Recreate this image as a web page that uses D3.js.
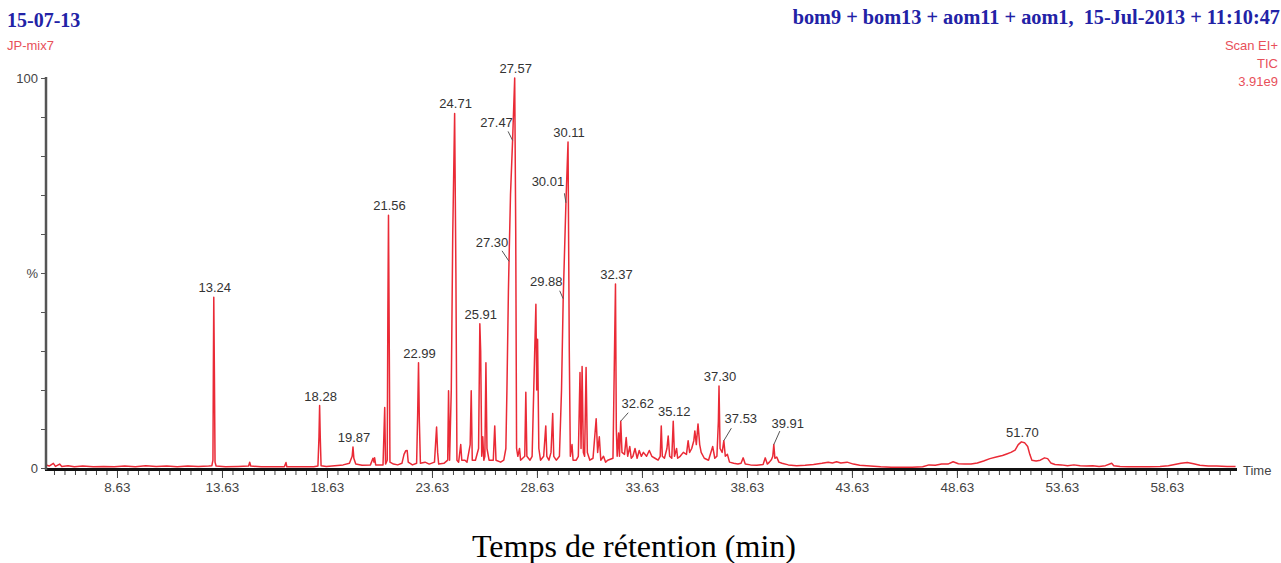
<!DOCTYPE html>
<html><head><meta charset="utf-8">
<script src="https://cdn.jsdelivr.net/npm/d3@7"></script>
<style>html,body{margin:0;padding:0;background:#fff;} svg{display:block;}</style>
</head><body>
<svg id="chart" width="1281" height="563"></svg>
<script>
// ---------- data ----------
const rtRange = [5.25, 61.92];
const majorTicks = [8.63, 13.63, 18.63, 23.63, 28.63, 33.63, 38.63, 43.63, 48.63, 53.63, 58.63];
const yTicks = [0, 10, 20, 30, 40, 50, 60, 70, 80, 90, 100];
const yTickText = {0: "0", 50: "%", 100: "100"};

// TIC trace: [retention time (min), relative intensity (%)]
const ticTrace = [
 [5.25,0.8],[5.4,0.5],[5.6,1.2],[5.7,0.4],[5.9,1.0],[6.0,0.4],[6.3,0.6],[6.6,0.3],[7.0,0.5],[7.5,0.3],
 [8.0,0.4],[8.5,0.3],[9.0,0.5],[9.5,0.3],[10.0,0.6],[10.5,0.4],[11.0,0.5],[11.5,0.3],[12.0,0.5],[12.5,0.4],
 [13.0,0.5],[13.15,0.6],[13.2,2],[13.22,25],[13.24,43.8],[13.27,24],[13.3,1.5],[13.35,0.5],
 [13.8,0.3],[14.4,0.4],[14.9,0.5],[14.95,1.5],[15.0,0.5],[15.5,0.3],[16.0,0.3],[16.6,0.3],[16.68,1.4],[16.72,0.3],
 [17.3,0.3],[18.0,0.3],[18.2,0.5],[18.25,8],[18.28,16],[18.31,8],[18.35,0.6],[18.6,0.4],[19.0,0.6],[19.4,0.8],
 [19.7,1.2],[19.83,3],[19.87,5.4],[19.91,2.5],[20.0,1.0],[20.3,0.7],[20.7,0.8],[20.82,2.5],[20.87,1.5],[20.9,2.6],[20.95,0.8],
 [21.3,0.8],[21.38,15.5],[21.42,1.0],[21.5,2],[21.53,40],[21.56,64.8],[21.59,38],[21.63,1.5],[21.8,1.0],[22.0,0.8],
 [22.2,1.2],[22.3,3.5],[22.38,4.4],[22.45,4.5],[22.5,1.5],[22.7,0.8],[22.9,1.2],[22.95,14],[22.99,27],[23.03,12],[23.08,1.2],
 [23.3,1.5],[23.5,1.0],[23.75,1.5],[23.85,10.5],[23.9,4],[23.95,1.0],[24.2,1.2],
 [24.38,2],[24.42,19.8],[24.47,2],[24.55,20],[24.62,60],[24.71,90.9],[24.77,50],[24.82,2],[24.9,1.5],[25.0,6],[25.05,2],
 [25.2,2],[25.3,1.5],[25.45,6],[25.5,19.8],[25.55,2],[25.7,2],[25.85,5],[25.91,37],[25.95,30],[26.0,3],[26.05,8],[26.1,2],
 [26.15,3],[26.2,27],[26.25,5],[26.35,2],[26.55,2],[26.62,10.8],[26.68,2],[26.9,1.5],[27.05,2],[27.15,5],[27.2,20],
 [27.27,45],[27.3,53],[27.37,70],[27.47,84],[27.57,100],[27.62,60],[27.66,5],[27.72,3],[27.8,5],[27.85,2],[27.95,2.5],
 [28.05,3],[28.1,19.4],[28.15,3],[28.3,2],[28.4,3],[28.5,25],[28.58,42],[28.62,20],[28.66,33],[28.72,5],[28.8,2],
 [28.95,3],[29.05,10.8],[29.1,3],[29.2,2],[29.3,4],[29.38,14],[29.43,3],[29.55,2],[29.7,3],[29.8,20],[29.88,43.4],
 [30.01,68],[30.11,83.6],[30.17,30],[30.22,3],[30.3,6],[30.35,2],[30.5,2],[30.6,3],[30.68,24.5],[30.73,5],[30.78,26],
 [30.84,4],[30.9,3],[30.97,25.8],[31.03,4],[31.15,2],[31.3,2.5],[31.45,12.6],[31.52,4],[31.6,8],[31.67,2],[31.8,3],
 [31.9,1.5],[32.0,2],[32.25,2.5],[32.31,25],[32.37,47.2],[32.41,10],[32.45,3],[32.52,9],[32.56,3],[32.62,12],[32.68,4],
 [32.8,3.5],[32.88,7.8],[32.95,3],[33.05,5.5],[33.12,2.5],[33.2,3],[33.3,5],[33.4,2.5],[33.5,4.5],[33.6,3],[33.7,4],
 [33.85,3],[33.98,4.5],[34.1,3],[34.25,2.5],[34.4,2],[34.5,3],[34.55,10.8],[34.6,3],[34.7,2.5],[34.82,5],[34.88,8.2],
 [34.95,3],[35.05,2.5],[35.12,12],[35.18,3],[35.28,5],[35.33,2.5],[35.45,3],[35.6,4],[35.75,3.5],[35.83,7],[35.9,4],
 [36.0,5],[36.1,7],[36.15,9.5],[36.22,6],[36.3,11.3],[36.38,6],[36.45,4],[36.6,2.5],[36.8,2],[37.0,5.5],[37.1,2.5],
 [37.2,3],[37.27,12],[37.3,21],[37.35,5],[37.45,4],[37.53,7],[37.6,3],[37.7,3.5],[37.8,1.5],[38.0,1.2],[38.2,1.0],
 [38.35,1.2],[38.45,2.6],[38.55,1],[38.8,0.8],[39.1,0.7],[39.4,0.9],[39.5,2.6],[39.6,1],[39.7,1.5],[39.8,2.2],[39.86,3],
 [39.91,6],[39.96,2.5],[40.05,2.8],[40.15,1.5],[40.3,1.2],[40.6,0.8],[41.0,0.6],[41.4,0.7],[41.8,0.9],[42.2,1.2],
 [42.5,1.5],[42.7,1.3],[42.9,1.6],[43.1,1.3],[43.4,1.5],[43.7,1.0],[44.0,0.7],[44.5,0.5],[45.0,0.3],[45.5,0.2],
 [46.0,0.2],[46.5,0.2],[47.0,0.3],[47.3,0.8],[47.6,0.7],[47.9,1.0],[48.2,1.0],[48.45,1.6],[48.7,1.1],[49.0,1.0],
 [49.3,1.0],[49.6,1.3],[49.9,1.8],[50.2,2.4],[50.5,2.8],[50.8,3.2],[51.0,3.6],[51.2,4.0],[51.4,4.6],[51.55,6.0],
 [51.7,6.7],[51.85,6.5],[52.0,5.5],[52.1,3.5],[52.2,2.0],[52.4,1.8],[52.6,2.0],[52.8,2.6],[52.95,2.4],[53.1,1.3],
 [53.3,0.9],[53.6,0.8],[53.9,0.6],[54.2,0.8],[54.5,0.6],[54.8,0.5],[55.1,0.6],[55.4,0.4],[55.7,0.6],[56.0,1.2],
 [56.1,0.6],[56.4,0.4],[56.8,0.3],[57.3,0.3],[57.8,0.3],[58.3,0.4],[58.7,0.6],[59.0,0.9],[59.3,1.2],[59.6,1.4],
 [59.9,1.1],[60.2,0.7],[60.6,0.5],[61.0,0.5],[61.5,0.4],[61.9,0.4]
];

// labelled peaks
const peakLabelText = ["13.24","18.28","19.87","21.56","22.99","24.71","25.91","27.30","27.47","27.57",
  "29.88","30.01","30.11","32.37","32.62","35.12","37.30","37.53","39.91","51.70"];
const peakLabelTime = [13.24,18.28,19.87,21.56,22.99,24.71,25.91,27.30,27.47,27.57,
  29.88,30.01,30.11,32.37,32.62,35.12,37.30,37.53,39.91,51.70];
const peakLabelHeight = [43.8,16,5.4,64.8,27,90.9,37,53,84,100,
  43.4,68,83.6,47.2,12,12,21,7,6,6.7];

// header texts
const headerLeft = "15-07-13";
const sampleName = "JP-mix7";
const headerRight = "bom9 + bom13 + aom11 + aom1,  15-Jul-2013 + 11:10:47";
const scanInfo = ["Scan EI+", "TIC", "3.91e9"];
const xAxisEnd = "Time";
const xTitle = "Temps de rétention (min)";

// ---------- drawing ----------
const svg = d3.select("#chart");
const x = d3.scaleLinear().domain(rtRange).range([46, 1236]);
const y = d3.scaleLinear().domain([0, 100]).range([468, 78]);
const sans = "'Liberation Sans', Arial, sans-serif";
const serif = "'Liberation Serif', 'Times New Roman', serif";

// trace
svg.append("path")
  .datum(ticTrace)
  .attr("fill", "none")
  .attr("stroke", "#ea2a36")
  .attr("stroke-width", 1.5)
  .attr("stroke-linejoin", "round")
  .attr("d", d3.line().x(d => x(d[0])).y(d => y(d[1])));

// minor x ticks
const minorTicks = d3.range(0, 200).map(k => 5.63 + 0.5 * k).filter(t => t <= rtRange[1]);
const gMinor = svg.append("g").attr("transform", "translate(0,470)")
  .call(d3.axisBottom(x).tickValues(minorTicks).tickSize(5).tickFormat(""));
gMinor.select(".domain").remove();
gMinor.selectAll(".tick line").attr("stroke", "#444");

const gMajor = svg.append("g").attr("transform", "translate(0,470)")
  .call(d3.axisBottom(x).tickValues(majorTicks).tickSize(8).tickPadding(4).tickFormat(d3.format(".2f")));
gMajor.select(".domain").remove();
gMajor.selectAll(".tick line").attr("stroke", "#444");
gMajor.selectAll(".tick text").attr("font-family", sans).attr("font-size", 13.5).attr("fill", "#444");

// x axis line
svg.append("line").attr("x1", 45).attr("x2", 1237).attr("y1", 469.5).attr("y2", 469.5)
  .attr("stroke", "#111").attr("stroke-width", 3);

// y axis
const gY = svg.append("g").attr("transform", "translate(46,0)")
  .call(d3.axisLeft(y).tickValues(yTicks).tickSize(5).tickPadding(3)
    .tickFormat(d => yTickText[d] || ""));
gY.select(".domain").remove();
gY.selectAll(".tick line").attr("stroke", "#555");
gY.selectAll(".tick text").attr("font-family", sans).attr("font-size", 13).attr("fill", "#444");
svg.append("line").attr("x1", 46).attr("x2", 46).attr("y1", 77).attr("y2", 470)
  .attr("stroke", "#555").attr("stroke-width", 2.5);

// "Time"
svg.append("text").attr("x", 1243).attr("y", 475).text(xAxisEnd)
  .attr("font-family", sans).attr("font-size", 13).attr("fill", "#444");

// peak labels (layout offsets in px: text anchor point and leader start relative to apex)
const labelLayout = {
  "27.47": {dx: -16, dy: -13, lx: -4.5, ly: -9},
  "27.30": {dx: -17, dy: -14, lx: -7, ly: -10.5},
  "30.01": {dx: -18, dy: -17, lx: -1.5, ly: -9.5},
  "29.88": {dx: -17, dy: -13, lx: -3.5, ly: -8},
  "32.62": {dx: 17, dy: -13, lx: 7.5, ly: -8.5},
  "37.53": {dx: 17, dy: -18, lx: 7.5, ly: -12.5},
  "39.91": {dx: 14, dy: -17, lx: 6, ly: -13.5}
};
const gLab = svg.append("g");
peakLabelText.forEach((txt, i) => {
  const px = x(peakLabelTime[i]), py = y(peakLabelHeight[i]);
  const L = labelLayout[txt];
  if (L) {
    gLab.append("line").attr("x1", px + L.lx).attr("y1", py + L.ly).attr("x2", px).attr("y2", py)
      .attr("stroke", "#555").attr("stroke-width", 1);
    gLab.append("text").attr("x", px + L.dx).attr("y", py + L.dy).attr("text-anchor", "middle")
      .attr("font-family", sans).attr("font-size", 13).attr("fill", "#333").text(txt);
  } else {
    gLab.append("text").attr("x", px + 1).attr("y", py - 5).attr("text-anchor", "middle")
      .attr("font-family", sans).attr("font-size", 13).attr("fill", "#333").text(txt);
  }
});

// headers
svg.append("text").attr("x", 7).attr("y", 27).text(headerLeft)
  .attr("font-family", serif).attr("font-weight", "bold").attr("font-size", 20).attr("fill", "#2222a6");
svg.append("text").attr("x", 7).attr("y", 50).text(sampleName)
  .attr("font-family", sans).attr("font-size", 13).attr("fill", "#e8505a");
svg.append("text").attr("x", 1280).attr("y", 24).attr("text-anchor", "end").text(headerRight)
  .attr("font-family", serif).attr("font-weight", "bold").attr("font-size", 20.3).attr("fill", "#2222a6")
  .attr("xml:space", "preserve").style("white-space", "pre");
scanInfo.forEach((s, i) => {
  svg.append("text").attr("x", 1278).attr("y", 50 + i * 18).attr("text-anchor", "end").text(s)
    .attr("font-family", sans).attr("font-size", 13).attr("fill", "#e8505a");
});

// x title
svg.append("text").attr("x", 634).attr("y", 557).attr("text-anchor", "middle").text(xTitle)
  .attr("font-family", serif).attr("font-size", 32).attr("fill", "#000");
</script>
</body></html>
